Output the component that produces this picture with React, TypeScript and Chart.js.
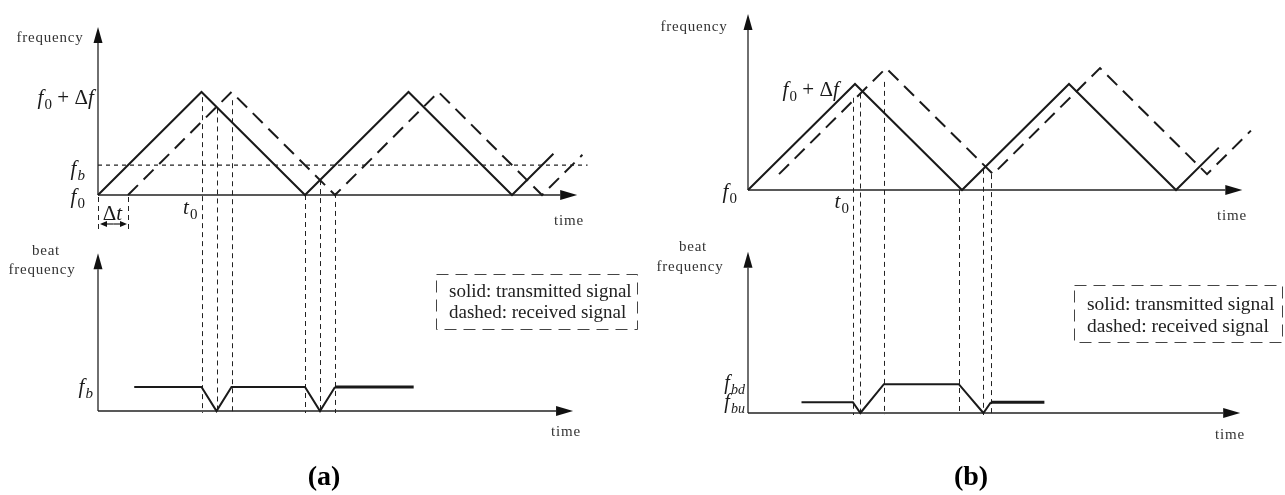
import React, { useEffect, useRef } from 'react';
import { Chart, registerables } from 'chart.js';

Chart.register(...registerables);

// ---------- DATA (time in units of a half sweep, frequency in units of Δf) ----------
// Panel (a): stationary target
const A_TX_T = [0, 1, 2, 3, 4, 4.4];
const A_TX_F = [0, 1, 0, 1, 0, 0.4];
const A_RX_T = [0.29, 1.29, 2.29, 3.29, 4.29, 4.68];
const A_RX_F = [0, 1, 0, 1, 0, 0.39];
const A_FB = 0.29;
const A_FB_LINE_T = [0, 4.73];
const A_BEAT_T = [0.35, 1, 1.145, 1.29, 2, 2.145, 2.29];
const A_BEAT_F = [0.29, 0.29, 0, 0.29, 0.29, 0, 0.29];
const A_BEAT_TAIL_T = [2.29, 3.05];
const A_BEAT_TAIL_F = [0.29, 0.29];
const A_MARK_T = [1, 1.145, 1.29, 2, 2.145, 2.29];
const A_MARK_TOP = [0.95, 0.84, 0.92, 0, 0.145, 0.02];
const A_DELAY = 0.29;

// Panel (b): moving target (Doppler shift)
const B_TX_T = [0, 1, 2, 3, 4, 4.4];
const B_TX_F = [0, 1, 0, 1, 0, 0.4];
const B_RX_T = [0.29, 1.29, 2.29, 3.29, 4.29, 4.7];
const B_RX_F = [0.15, 1.15, 0.15, 1.15, 0.15, 0.56];
const B_FBU = 0.15;
const B_FBD = 0.4;
const B_BEAT_T = [0.5, 0.98, 1.05, 1.27, 1.97, 2.2, 2.27];
const B_BEAT_F = [0.15, 0.15, 0, 0.4, 0.4, 0, 0.15];
const B_BEAT_TAIL_T = [2.27, 2.77];
const B_BEAT_TAIL_F = [0.15, 0.15];
const B_MARK_T = [0.98, 1.05, 1.27, 1.97, 2.2, 2.27];
const B_MARK_TOP = [0.87, 0.91, 1.02, 0, 0.2, 0.15];

const LEGEND_LINES = ['solid: transmitted signal', 'dashed: received signal'];

// ---------- STYLE / LAYOUT ----------
const SERIF = '"Liberation Serif", "Times New Roman", serif';
const INK = '#1a1a1a';

type Run = { t: string; italic?: boolean; sub?: boolean };
type MathLabel = { runs: Run[]; t: number; f: number; axis: 'top' | 'bot'; dx: number; dy: number; align: 'left' | 'right' | 'center'; size: number };
type PlainText = { text: string; x: number; y: number; size: number; spacing?: number; bold?: boolean };

const pts = (xs: number[], ys: number[]) => xs.map((x, i) => ({ x, y: ys[i] }));

function drawMath(ctx: CanvasRenderingContext2D, runs: Run[], x: number, cy: number, size: number, align: string) {
  const fontFor = (r: Run) => `${r.italic ? 'italic ' : ''}${r.sub ? Math.round(size * 0.7) : size}px ${SERIF}`;
  let total = 0;
  const widths = runs.map((r) => {
    ctx.font = fontFor(r);
    const w = ctx.measureText(r.t).width + (r.italic && !r.sub ? size * 0.06 : 0);
    total += w;
    return w;
  });
  let cx = align === 'left' ? x : align === 'right' ? x - total : x - total / 2;
  const base = cy + size * 0.3;
  ctx.textAlign = 'left';
  ctx.textBaseline = 'alphabetic';
  runs.forEach((r, i) => {
    ctx.font = fontFor(r);
    ctx.fillText(r.t, cx, r.sub ? base + size * 0.22 : base);
    cx += widths[i];
  });
}

function arrowLine(ctx: CanvasRenderingContext2D, x0: number, y0: number, x1: number, y1: number, len = 16, half = 4.5) {
  const a = Math.atan2(y1 - y0, x1 - x0);
  const bx = x1 - len * Math.cos(a);
  const by = y1 - len * Math.sin(a);
  ctx.beginPath();
  ctx.moveTo(x0, y0);
  ctx.lineTo(bx, by);
  ctx.stroke();
  ctx.beginPath();
  ctx.moveTo(x1, y1);
  ctx.lineTo(bx + half * Math.sin(a), by - half * Math.cos(a));
  ctx.lineTo(bx - half * Math.sin(a), by + half * Math.cos(a));
  ctx.closePath();
  ctx.fill();
}

interface Panel {
  width: number;
  height: number;
  originX: number;
  pxT: number;
  topBase: number;
  topPx: number;
  botBase: number;
  botPx: number;
  topXEnd: number;
  topYEnd: number;
  botXEnd: number;
  botYEnd: number;
  tx: { x: number; y: number }[];
  rx: { x: number; y: number }[];
  beat: { x: number; y: number }[];
  beatTail: { x: number; y: number }[];
  fbLine?: { x: number; y: number }[];
  markT: number[];
  markTop: number[];
  delay?: number;
  math: MathLabel[];
  texts: PlainText[];
  legend: { x: number; y: number; w: number; h: number; size: number; textX: number; lineY: number[] };
}

const f0: Run[] = [{ t: 'f', italic: true }, { t: '0', sub: true }];
const f0df: Run[] = [{ t: 'f', italic: true }, { t: '0', sub: true }, { t: ' + Δ' }, { t: 'f', italic: true }];
const t0: Run[] = [{ t: 't', italic: true }, { t: '0', sub: true }];
const fb: Run[] = [{ t: 'f', italic: true }, { t: 'b', italic: true, sub: true }];

const PANEL_A: Panel = {
  width: 640,
  height: 495,
  originX: 98,
  pxT: 103.5,
  topBase: 195,
  topPx: 103,
  botBase: 411,
  botPx: 83,
  topXEnd: 4.63,
  topYEnd: 1.63,
  botXEnd: 4.59,
  botYEnd: 1.9,
  tx: pts(A_TX_T, A_TX_F),
  rx: pts(A_RX_T, A_RX_F),
  beat: pts(A_BEAT_T, A_BEAT_F),
  beatTail: pts(A_BEAT_TAIL_T, A_BEAT_TAIL_F),
  fbLine: pts(A_FB_LINE_T, [A_FB, A_FB]),
  markT: A_MARK_T,
  markTop: A_MARK_TOP,
  delay: A_DELAY,
  math: [
    { runs: f0df, t: 0, f: 1, axis: 'top', dx: -3, dy: 6, align: 'right', size: 21 },
    { runs: fb, t: 0, f: A_FB, axis: 'top', dx: -13, dy: 4, align: 'right', size: 21 },
    { runs: f0, t: 0, f: 0, axis: 'top', dx: -13, dy: 2, align: 'right', size: 21 },
    { runs: t0, t: 1, f: 0, axis: 'top', dx: -4, dy: 13, align: 'right', size: 21 },
    { runs: fb, t: 0, f: A_FB, axis: 'bot', dx: -5, dy: 0, align: 'right', size: 21 },
    { runs: [{ t: 'Δ' }, { t: 't', italic: true }], t: A_DELAY / 2, f: 0, axis: 'top', dx: 0, dy: 19, align: 'center', size: 21 },
  ],
  texts: [
    { text: 'frequency', x: 50, y: 38, size: 15, spacing: 0.8 },
    { text: 'time', x: 569, y: 221, size: 15, spacing: 0.8 },
    { text: 'beat', x: 46, y: 251, size: 15, spacing: 0.8 },
    { text: 'frequency', x: 42, y: 270, size: 15, spacing: 0.8 },
    { text: 'time', x: 566, y: 432, size: 15, spacing: 0.8 },
    { text: '(a)', x: 324, y: 478, size: 28, bold: true },
  ],
  legend: { x: 436.5, y: 274.5, w: 201, h: 55, size: 19, textX: 449, lineY: [292, 313] },
};

const PANEL_B: Panel = {
  width: 645,
  height: 495,
  originX: 108,
  pxT: 107,
  topBase: 190,
  topPx: 106,
  botBase: 413,
  botPx: 72,
  topXEnd: 4.62,
  topYEnd: 1.66,
  botXEnd: 4.6,
  botYEnd: 2.24,
  tx: pts(B_TX_T, B_TX_F),
  rx: pts(B_RX_T, B_RX_F),
  beat: pts(B_BEAT_T, B_BEAT_F),
  beatTail: pts(B_BEAT_TAIL_T, B_BEAT_TAIL_F),
  markT: B_MARK_T,
  markTop: B_MARK_TOP,
  math: [
    { runs: f0df, t: 1, f: 1, axis: 'top', dx: -15, dy: 6, align: 'right', size: 21 },
    { runs: f0, t: 0, f: 0, axis: 'top', dx: -11, dy: 2, align: 'right', size: 21 },
    { runs: t0, t: 1, f: 0, axis: 'top', dx: -6, dy: 12, align: 'right', size: 21 },
    { runs: [{ t: 'f', italic: true }, { t: 'bd', italic: true, sub: true }], t: 0, f: B_FBD, axis: 'bot', dx: -3, dy: -1, align: 'right', size: 20 },
    { runs: [{ t: 'f', italic: true }, { t: 'bu', italic: true, sub: true }], t: 0, f: B_FBU, axis: 'bot', dx: -3, dy: 0, align: 'right', size: 20 },
  ],
  texts: [
    { text: 'frequency', x: 54, y: 27, size: 15, spacing: 0.8 },
    { text: 'time', x: 592, y: 216, size: 15, spacing: 0.8 },
    { text: 'beat', x: 53, y: 247, size: 15, spacing: 0.8 },
    { text: 'frequency', x: 50, y: 267, size: 15, spacing: 0.8 },
    { text: 'time', x: 590, y: 435, size: 15, spacing: 0.8 },
    { text: '(b)', x: 331, y: 478, size: 28, bold: true },
  ],
  legend: { x: 434.5, y: 285.5, w: 208, h: 57, size: 19.5, textX: 447, lineY: [305, 327] },
};

function buildChart(canvas: HTMLCanvasElement, p: Panel) {
  const line = (data: any[], yAxisID: string, extra: any = {}) => ({
    type: 'line',
    data,
    yAxisID,
    borderColor: INK,
    borderWidth: 2,
    pointRadius: 0,
    fill: false,
    tension: 0,
    clip: false,
    borderJoinStyle: 'miter',
    ...extra,
  });
  const datasets: any[] = [];
  if (p.fbLine) datasets.push(line(p.fbLine, 'yTop', { borderWidth: 1.1, borderDash: [4, 4], borderColor: '#222' }));
  datasets.push(line(p.tx, 'yTop'));
  datasets.push(line(p.rx, 'yTop', { borderDash: [14, 8] }));
  datasets.push(line(p.beat, 'yBot'));
  datasets.push(line(p.beatTail, 'yBot', { borderWidth: 3 }));

  const W = p.width;
  const H = p.height;

  const plugin = {
    id: 'fmcwDiagram',
    beforeDatasetsDraw(chart: any) {
      const ctx: CanvasRenderingContext2D = chart.ctx;
      const X = (v: number) => chart.scales.x.getPixelForValue(v);
      const T = (v: number) => chart.scales.yTop.getPixelForValue(v);
      const B = (v: number) => chart.scales.yBot.getPixelForValue(v);
      ctx.save();
      ctx.strokeStyle = '#222';
      ctx.fillStyle = '#111';
      ctx.lineWidth = 1.3;
      // axes with arrow heads
      arrowLine(ctx, X(0), T(0), X(0), T(p.topYEnd), 16, 4.5);
      arrowLine(ctx, X(0), T(0), X(p.topXEnd), T(0), 17, 5);
      arrowLine(ctx, X(0), B(0), X(0), B(p.botYEnd), 16, 4.5);
      arrowLine(ctx, X(0), B(0), X(p.botXEnd), B(0), 17, 5);
      // vertical guide lines from the top plot down to the beat plot
      ctx.lineWidth = 1;
      ctx.setLineDash([5, 4]);
      p.markT.forEach((t, i) => {
        ctx.beginPath();
        ctx.moveTo(Math.round(X(t)) + 0.5, T(p.markTop[i]));
        ctx.lineTo(Math.round(X(t)) + 0.5, B(0) + 2);
        ctx.stroke();
      });
      // delay annotation
      if (p.delay !== undefined) {
        [0, p.delay].forEach((t) => {
          ctx.beginPath();
          ctx.moveTo(Math.round(X(t)) + 0.5, T(0) + 2);
          ctx.lineTo(Math.round(X(t)) + 0.5, T(0) + 37);
          ctx.stroke();
        });
        ctx.setLineDash([]);
        ctx.lineWidth = 1.2;
        const ya = T(0) + 29;
        const xa = X(0) + 2;
        const xb = X(p.delay) - 1;
        const mid = (xa + xb) / 2;
        arrowLine(ctx, mid, ya, xa, ya, 7, 3);
        arrowLine(ctx, mid, ya, xb, ya, 7, 3);
      }
      ctx.restore();
    },
    afterDatasetsDraw(chart: any) {
      const ctx: CanvasRenderingContext2D = chart.ctx;
      const X = (v: number) => chart.scales.x.getPixelForValue(v);
      const T = (v: number) => chart.scales.yTop.getPixelForValue(v);
      const B = (v: number) => chart.scales.yBot.getPixelForValue(v);
      ctx.save();
      ctx.fillStyle = INK;
      p.math.forEach((m) => {
        const y = (m.axis === 'top' ? T(m.f) : B(m.f)) + m.dy;
        drawMath(ctx, m.runs, X(m.t) + m.dx, y, m.size, m.align);
      });
      p.texts.forEach((tx) => {
        ctx.font = `${tx.bold ? 'bold ' : ''}${tx.size}px ${SERIF}`;
        (ctx as any).letterSpacing = `${tx.spacing || 0}px`;
        ctx.fillStyle = tx.bold ? '#000' : '#333';
        ctx.textAlign = 'center';
        ctx.textBaseline = 'middle';
        ctx.fillText(tx.text, tx.x, tx.y);
      });
      (ctx as any).letterSpacing = '0px';
      // legend box
      const lg = p.legend;
      ctx.strokeStyle = '#444';
      ctx.lineWidth = 1;
      ctx.setLineDash([12, 7]);
      ctx.strokeRect(lg.x, lg.y, lg.w, lg.h);
      ctx.setLineDash([]);
      ctx.fillStyle = '#222';
      ctx.font = `${lg.size}px ${SERIF}`;
      ctx.textAlign = 'left';
      ctx.textBaseline = 'middle';
      LEGEND_LINES.forEach((s, i) => ctx.fillText(s, lg.textX, lg.lineY[i]));
      ctx.restore();
    },
  };

  return new Chart(canvas, {
    type: 'line',
    data: { datasets },
    options: {
      responsive: false,
      animation: false,
      maintainAspectRatio: false,
      layout: { padding: 0 },
      events: [],
      plugins: { legend: { display: false }, tooltip: { enabled: false }, title: { display: false } },
      scales: {
        x: { type: 'linear', display: false, min: -p.originX / p.pxT, max: (W - p.originX) / p.pxT },
        yTop: { type: 'linear', display: false, min: -(H - p.topBase) / p.topPx, max: p.topBase / p.topPx },
        yBot: { type: 'linear', display: false, min: -(H - p.botBase) / p.botPx, max: p.botBase / p.botPx },
      },
    } as any,
    plugins: [plugin],
  } as any);
}

export default function App() {
  const refA = useRef<HTMLCanvasElement>(null);
  const refB = useRef<HTMLCanvasElement>(null);
  useEffect(() => {
    const ca = buildChart(refA.current!, PANEL_A);
    const cb = buildChart(refB.current!, PANEL_B);
    return () => {
      ca.destroy();
      cb.destroy();
    };
  }, []);
  return (
    <div style={{ position: 'fixed', left: 0, top: 0, width: 1285, height: 495, background: '#fff' }}>
      <canvas ref={refA} width={PANEL_A.width} height={PANEL_A.height} style={{ position: 'absolute', left: 0, top: 0 }} />
      <canvas ref={refB} width={PANEL_B.width} height={PANEL_B.height} style={{ position: 'absolute', left: 640, top: 0 }} />
    </div>
  );
}
